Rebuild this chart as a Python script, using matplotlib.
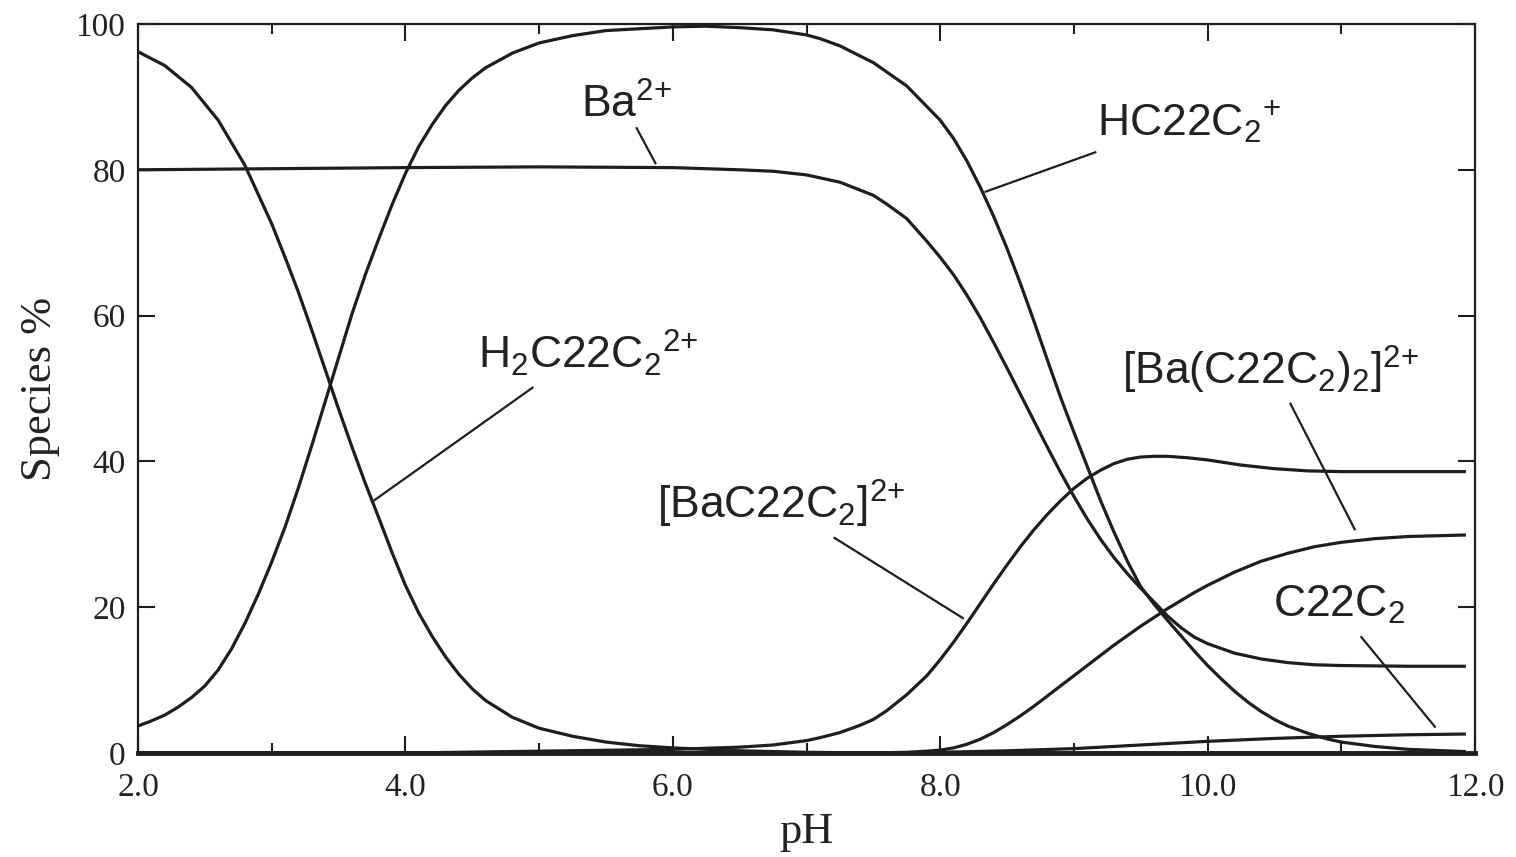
import matplotlib
matplotlib.use("Agg")
import matplotlib.pyplot as plt

plt.rcParams["mathtext.fontset"] = "custom"
plt.rcParams["mathtext.rm"] = "Liberation Sans"
plt.rcParams["mathtext.it"] = "Liberation Sans:italic"
plt.rcParams["mathtext.bf"] = "Liberation Sans:bold"

# curvas de especiacion (pH, % especie)
ph_h2l = [2.0, 2.2, 2.4, 2.6, 2.8, 3.0, 3.1, 3.2, 3.3, 3.4, 3.5, 3.6, 3.7, 3.8, 3.9,
          4.0, 4.1, 4.2, 4.3, 4.4, 4.5, 4.6, 4.8, 5.0, 5.25, 5.5, 5.75, 6.0, 6.5, 7.0,
          7.5, 11.92]
h2l = [96.2, 94.3, 91.3, 86.8, 80.6, 72.6, 68.0, 63.2, 58.0, 52.6, 47.2, 42.0, 37.0, 32.3, 27.5,
       23.0, 19.2, 16.0, 13.2, 10.8, 8.8, 7.2, 4.9, 3.4, 2.3, 1.5, 1.0, 0.7, 0.3, 0.1,
       0.0, 0.0]

ph_hl = [2.0, 2.1, 2.2, 2.3, 2.4, 2.5, 2.6, 2.7, 2.8, 2.9, 3.0, 3.1, 3.2, 3.3, 3.4, 3.5,
         3.6, 3.7, 3.8, 3.9, 4.0, 4.1, 4.2, 4.3, 4.4, 4.5, 4.6, 4.8, 5.0, 5.25, 5.5, 6.0,
         6.25, 6.5, 6.75, 7.0, 7.1, 7.25, 7.5, 7.75, 8.0, 8.1, 8.2, 8.3, 8.4, 8.5, 8.6, 8.7,
         8.8, 8.9, 9.0, 9.1, 9.2, 9.3, 9.4, 9.5, 9.6, 9.7, 9.8, 9.9, 10.0, 10.1, 10.2, 10.3,
         10.4, 10.5, 10.6, 10.75, 10.9, 11.0, 11.25, 11.5, 11.92]
hl = [3.7, 4.4, 5.2, 6.3, 7.6, 9.2, 11.4, 14.3, 17.8, 21.8, 26.2, 31.0, 36.4, 42.2, 48.2, 54.2,
      60.2, 65.6, 70.5, 75.2, 79.5, 83.2, 86.2, 88.8, 90.9, 92.6, 94.0, 96.0, 97.4, 98.4, 99.1, 99.6,
      99.7, 99.5, 99.2, 98.5, 98.0, 97.0, 94.7, 91.5, 86.8, 84.3, 81.2, 77.6, 73.6, 69.2, 64.4, 59.3,
      54.0, 48.8, 44.0, 39.3, 34.6, 30.3, 26.3, 22.8, 20.4, 18.2, 16.1, 14.0, 12.0, 10.2, 8.5, 7.0,
      5.7, 4.6, 3.7, 2.7, 1.9, 1.5, 0.9, 0.5, 0.2]

ph_ba = [2.0, 4.0, 5.0, 6.0, 6.5, 6.75, 7.0, 7.25, 7.5, 7.6, 7.75, 7.9, 8.0, 8.1, 8.2,
         8.3, 8.4, 8.5, 8.6, 8.7, 8.8, 8.9, 9.0, 9.1, 9.2, 9.3, 9.4, 9.5, 9.6, 9.7, 9.8,
         9.9, 10.0, 10.2, 10.4, 10.6, 10.8, 11.0, 11.5, 11.92]
ba = [80.0, 80.3, 80.4, 80.3, 80.0, 79.8, 79.3, 78.3, 76.5, 75.3, 73.3, 70.2, 68.0, 65.6, 62.8,
      59.7, 56.3, 52.8, 49.2, 45.6, 42.0, 38.5, 35.2, 32.1, 29.3, 26.8, 24.6, 22.6, 20.7, 18.8, 17.2,
      15.9, 15.0, 13.7, 12.9, 12.4, 12.1, 12.0, 11.9, 11.9]

ph_bal = [2.0, 4.0, 6.0, 6.5, 6.75, 7.0, 7.1, 7.25, 7.4, 7.5, 7.6, 7.75, 7.9, 8.0, 8.1,
          8.2, 8.3, 8.4, 8.5, 8.6, 8.7, 8.8, 8.9, 9.0, 9.1, 9.2, 9.3, 9.4, 9.5, 9.6, 9.7,
          9.85, 10.0, 10.25, 10.5, 10.75, 11.0, 11.5, 11.92]
bal = [0.0, 0.0, 0.5, 0.8, 1.1, 1.7, 2.1, 2.8, 3.8, 4.6, 5.8, 8.0, 10.6, 12.8, 15.2,
       17.8, 20.5, 23.2, 25.8, 28.3, 30.6, 32.7, 34.6, 36.3, 37.7, 38.8, 39.7, 40.3, 40.6, 40.7, 40.7,
       40.5, 40.2, 39.5, 39.0, 38.7, 38.6, 38.6, 38.6]

ph_bal2 = [2.0, 7.5, 7.75, 7.9, 8.0, 8.1, 8.2, 8.3, 8.4, 8.5, 8.6, 8.7, 8.8, 8.9, 9.0,
           9.1, 9.2, 9.3, 9.4, 9.5, 9.6, 9.7, 9.8, 9.9, 10.0, 10.2, 10.4, 10.6, 10.8,
           11.0, 11.25, 11.5, 11.92]
bal2 = [0.0, 0.0, 0.1, 0.25, 0.4, 0.7, 1.2, 1.9, 2.8, 3.9, 5.1, 6.4, 7.8, 9.2, 10.6,
        12.0, 13.4, 14.8, 16.1, 17.4, 18.6, 19.8, 20.9, 22.0, 23.0, 24.8, 26.3, 27.4, 28.3,
        28.9, 29.4, 29.7, 29.9]

ph_l = [2.0, 7.5, 8.0, 8.5, 9.0, 9.5, 10.0, 10.5, 11.0, 11.5, 11.92]
lig = [0.0, 0.0, 0.1, 0.3, 0.6, 1.1, 1.6, 2.0, 2.3, 2.5, 2.6]

# etiquetas: texto, posicion del texto, linea guia (x0, y0, x1, y1)
etiquetas = [r"Ba$^{2{+}}$", r"HC22C$_2$$^{+}$", r"H$_2$C22C$_2$$^{2{+}}$",
             r"[BaC22C$_2$]$^{2{+}}$", r"[Ba(C22C$_2$)$_2$]$^{2{+}}$", r"C22C$_2$"]
pos_texto = [(5.31, 87.1), (9.17, 84.6), (4.54, 52.8), (5.88, 32.2), (9.36, 50.5), (10.49, 18.7)]
guias = [(5.73, 85.7, 5.87, 80.9), (9.16, 82.4, 8.34, 77.0), (4.95, 50.1, 3.77, 34.7),
         (7.21, 29.5, 8.17, 18.5), (10.62, 47.9, 11.10, 30.7), (11.15, 15.9, 11.70, 3.6)]

fig = plt.figure(figsize=(15.16, 8.57), dpi=100)
ax = fig.add_axes([138 / 1516, 1 - 753 / 857, 1337 / 1516, 729 / 857])

negro = "#1e1e1e"
for x, y in [(ph_h2l, h2l), (ph_hl, hl), (ph_ba, ba), (ph_bal, bal), (ph_bal2, bal2), (ph_l, lig)]:
    ax.plot(x, y, color=negro, lw=2.3, solid_joinstyle="round")

for (txt, (tx, ty), (x0, y0, x1, y1)) in zip(etiquetas, pos_texto, guias):
    ax.text(tx, ty, txt, fontsize=32, family="Liberation Sans", color="#222222",
            ha="left", va="baseline")
    ax.plot([x0, x1], [y0, y1], color=negro, lw=1.6)

ax.set_xlim(2, 12)
ax.set_ylim(0, 100)
ax.set_xticks([2, 4, 6, 8, 10, 12])
ax.set_xticklabels(["2.0", "4.0", "6.0", "8.0", "10.0", "12.0"])
ax.set_xticks([3, 5, 7, 9, 11], minor=True)
ax.set_yticks([0, 20, 40, 60, 80, 100])

ax.tick_params(which="both", direction="in", top=True, right=True, width=1.5, color=negro)
ax.tick_params(which="major", length=12, labelsize=24)
ax.tick_params(axis="x", which="major", pad=14)
ax.tick_params(axis="y", which="major", pad=9)
ax.tick_params(which="minor", length=7)
for lab in ax.get_xticklabels() + ax.get_yticklabels():
    lab.set_family("Liberation Serif")
    lab.set_color("#222222")

for s in ax.spines.values():
    s.set_linewidth(1.6)
    s.set_color(negro)
ax.spines["bottom"].set_linewidth(3.5)

ax.set_xlabel("pH", fontsize=32, family="Liberation Serif", color="#222222")
ax.set_ylabel("Species %", fontsize=32, family="Liberation Serif", color="#222222")
ax.xaxis.set_label_coords(0.5, -0.081)
ax.yaxis.set_label_coords(-0.058, 0.5)

fig.savefig("out.png", dpi=100)
